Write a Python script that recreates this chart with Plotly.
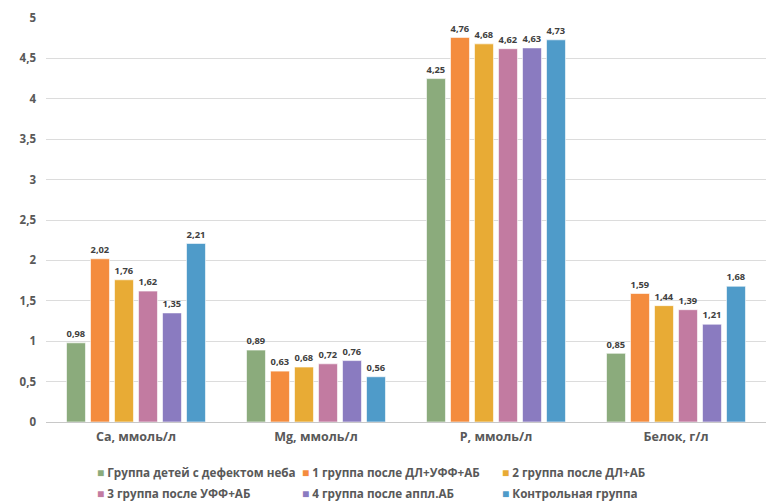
import plotly.graph_objects as go

categories = ["Ca, ммоль/л", "Mg, ммоль/л", "P, ммоль/л", "Белок, г/л"]

series_names = [
    "Группа детей с дефектом неба",
    "1 группа после ДЛ+УФФ+АБ",
    "2 группа после ДЛ+АБ",
    "3 группа после УФФ+АБ",
    "4 группа после аппл.АБ",
    "Контрольная группа",
]

group_defect = [0.98, 0.89, 4.25, 0.85]
group_1 = [2.02, 0.63, 4.76, 1.59]
group_2 = [1.76, 0.68, 4.68, 1.44]
group_3 = [1.62, 0.72, 4.62, 1.39]
group_4 = [1.35, 0.76, 4.63, 1.21]
group_control = [2.21, 0.56, 4.73, 1.68]

y_ticks = [0, 0.5, 1, 1.5, 2, 2.5, 3, 3.5, 4, 4.5, 5]

colors = ["#8bab7c", "#f48c3e", "#e8ab35", "#c27ba1", "#8a7bc0", "#4f9bc9"]
values = [group_defect, group_1, group_2, group_3, group_4, group_control]

FONT = "Open Sans, Arial, sans-serif"
TEXT_GRAY = "#595959"

fig = go.Figure()
for name, vals, col in zip(series_names, values, colors):
    fig.add_trace(go.Bar(
        name=name,
        x=categories,
        y=vals,
        marker=dict(color=col, line=dict(color="white", width=0.6)),
        texttemplate="%{y:.2f}",
        textposition="outside",
        textfont=dict(family=FONT, size=10, color="#404040", weight="bold"),
        cliponaxis=False,
        showlegend=False,
    ))

# Plot area spans these pixel bounds; helpers map legend positions to paper space
L, R, T, B = 46, 766, 18, 422


def px_x(px):
    return (px - L) / (R - L)


def px_y(py):
    return (B - py) / (B - T)


legend_cols = [96, 301, 501]
legend_rows = [472, 493]
for i, (name, col) in enumerate(zip(series_names, colors)):
    r, c = divmod(i, 3)
    fig.add_annotation(
        xref="paper", yref="paper",
        x=px_x(legend_cols[c]), y=px_y(legend_rows[r]),
        xanchor="left", yanchor="middle",
        text=f"<span style='color:{col};font-size:12px'>■</span> {name}",
        showarrow=False,
        borderpad=0,
        font=dict(family=FONT, size=11.7, color=TEXT_GRAY, weight="bold"),
    )

fig.update_layout(
    width=768, height=501,
    margin=dict(l=L, r=768 - R, t=T, b=501 - B),
    paper_bgcolor="white",
    plot_bgcolor="white",
    separators=", ",
    barmode="group",
    bargap=0.2,
    bargroupgap=0.21,
    font=dict(family=FONT, color=TEXT_GRAY),
)
fig.update_yaxes(
    range=[0, 5],
    tickvals=y_ticks,
    showgrid=True,
    gridcolor="#dcdcdc",
    gridwidth=1,
    zeroline=True,
    zerolinecolor="#c8c8c8",
    zerolinewidth=1,
    showline=False,
    ticks="",
    ticklabelstandoff=9,
    tickfont=dict(family=FONT, size=11.5, color=TEXT_GRAY, weight="bold"),
)
fig.update_xaxes(
    showline=False,
    ticks="",
    showgrid=False,
    ticklabelstandoff=5,
    tickfont=dict(family=FONT, size=12.5, color=TEXT_GRAY, weight="bold"),
)

fig.write_html("out.html")
